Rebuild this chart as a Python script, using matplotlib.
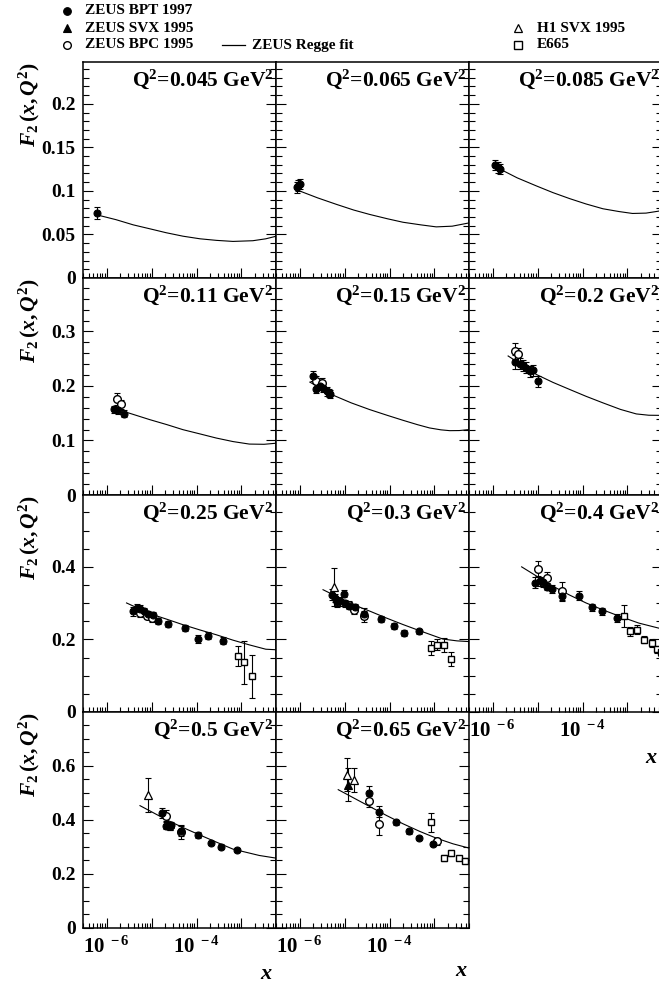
import matplotlib
matplotlib.use("Agg")
import matplotlib.pyplot as plt
from matplotlib.ticker import FixedLocator, FuncFormatter, MultipleLocator, NullFormatter
import numpy as np

plt.rcParams['font.family'] = ['Liberation Serif', 'DejaVu Serif']
plt.rcParams['font.weight'] = 'bold'
plt.rcParams['mathtext.fontset'] = 'custom'
plt.rcParams['mathtext.rm'] = 'Liberation Serif:bold'
plt.rcParams['mathtext.bf'] = 'Liberation Serif:bold'
plt.rcParams['mathtext.it'] = 'Liberation Serif:italic:bold'

# ---------------- data ----------------
q2_labels = ["0.045", "0.065", "0.085", "0.11", "0.15", "0.2",
             "0.25", "0.3", "0.4", "0.5", "0.65"]
row_ymax = [0.248, 0.398, 0.598, 0.798]
row_major = [0.05, 0.1, 0.2, 0.2]
row_minor = [0.01, 0.02, 0.05, 0.05]

# Q2 = 0.045
q045_fit_x = [5.5e-7, 1.6e-6, 3.9e-6, 1.0e-5, 2.1e-5, 5.0e-5, 1.2e-4, 2.8e-4, 6.5e-4, 1.8e-3, 3.5e-3, 6.0e-3]
q045_fit_f = [0.073, 0.067, 0.061, 0.056, 0.052, 0.048, 0.045, 0.0432, 0.042, 0.0428, 0.045, 0.048]
q045_bpt_x = [6.0e-7]
q045_bpt_f = [0.075]
q045_bpt_e = [0.007]

# Q2 = 0.065
q065_fit_x = [7.8e-7, 2.5e-6, 6.6e-6, 1.6e-5, 3.6e-5, 9.0e-5, 2.0e-4, 5.0e-4, 1.1e-3, 2.5e-3, 6.0e-3]
q065_fit_f = [0.102, 0.092, 0.0845, 0.078, 0.073, 0.068, 0.064, 0.061, 0.0587, 0.0595, 0.0633]
q065_bpt_x = [8.5e-7, 9.3e-7, 1.0e-6]
q065_bpt_f = [0.104, 0.106, 0.108]
q065_bpt_e = [0.006, 0.006, 0.006]

# Q2 = 0.085
q085_fit_x = [1.22e-6, 3.5e-6, 9.4e-6, 2.2e-5, 5.2e-5, 1.2e-4, 2.85e-4, 6.5e-4, 1.3e-3, 2.6e-3, 4.9e-3, 6.0e-3]
q085_fit_f = [0.127, 0.115, 0.1057, 0.098, 0.0911, 0.085, 0.0795, 0.0763, 0.0741, 0.0745, 0.0767, 0.078]
q085_bpt_x = [1.12e-6, 1.32e-6, 1.48e-6]
q085_bpt_f = [0.1296, 0.127, 0.125]
q085_bpt_e = [0.006, 0.006, 0.006]

# Q2 = 0.11
q11_fit_x = [2.76e-6, 9.1e-6, 2.2e-5, 5.0e-5, 1.2e-4, 2.75e-4, 6.5e-4, 1.5e-3, 3.2e-3, 6.0e-3]
q11_fit_f = [0.1517, 0.1382, 0.129, 0.1198, 0.112, 0.1045, 0.098, 0.0934, 0.093, 0.095]
q11_bpt_x = [1.48e-6, 1.78e-6, 2.4e-6]
q11_bpt_f = [0.157, 0.155, 0.149]
q11_bpt_e = [0.006, 0.006, 0.006]
q11_bpc_x = [1.7e-6, 2.04e-6]
q11_bpc_f = [0.176, 0.166]
q11_bpc_e = [0.011, 0.008]

# Q2 = 0.15
q15_fit_x = [1.68e-6, 5.1e-6, 1.4e-5, 3.6e-5, 9.0e-5, 2.0e-4, 4.2e-4, 7.8e-4, 1.4e-3, 2.2e-3, 3.6e-3, 6.0e-3]
q15_fit_f = [0.207, 0.1843, 0.169, 0.1567, 0.146, 0.137, 0.129, 0.123, 0.1195, 0.118, 0.1182, 0.120]
q15_bpt_x = [2.0e-6, 2.34e-6, 2.8e-6, 3.3e-6, 4.0e-6, 4.4e-6, 4.8e-6]
q15_bpt_f = [0.218, 0.195, 0.200, 0.197, 0.190, 0.187, 0.185]
q15_bpt_e = [0.009, 0.008, 0.008, 0.008, 0.008, 0.008, 0.008]
q15_bpc_x = [2.34e-6, 3.2e-6]
q15_bpc_f = [0.209, 0.205]
q15_bpc_e = [0.010, 0.010]

# Q2 = 0.2
q20_fit_x = [2.2e-6, 9.4e-6, 2.2e-5, 5.2e-5, 1.2e-4, 2.85e-4, 7.0e-4, 1.58e-3, 3.0e-3, 6.0e-3]
q20_fit_f = [0.255, 0.221, 0.2065, 0.1935, 0.181, 0.169, 0.157, 0.1487, 0.1463, 0.146]
q20_bpt_x = [3.16e-6, 4.1e-6, 4.8e-6, 5.6e-6, 6.8e-6, 7.9e-6, 1.02e-5]
q20_bpt_f = [0.244, 0.241, 0.238, 0.2335, 0.227, 0.229, 0.209]
q20_bpt_e = [0.012, 0.010, 0.010, 0.010, 0.010, 0.010, 0.010]
q20_bpc_x = [3.16e-6, 3.7e-6]
q20_bpc_f = [0.264, 0.258]
q20_bpc_e = [0.015, 0.012]

# Q2 = 0.25
q25_fit_x = [2.76e-6, 9.1e-6, 2.2e-5, 5.0e-5, 1.2e-4, 2.75e-4, 6.5e-4, 1.5e-3, 3.5e-3, 6.0e-3]
q25_fit_f = [0.3005, 0.271, 0.2555, 0.2405, 0.226, 0.2129, 0.198, 0.185, 0.173, 0.1715]
q25_bpt_x = [3.9e-6, 4.6e-6, 5.5e-6, 6.8e-6, 8.3e-6, 1.05e-5, 1.38e-5,
             2.34e-5, 5.5e-5, 1.07e-4, 1.78e-4, 3.9e-4]
q25_bpt_f = [0.277, 0.287, 0.284, 0.277, 0.271, 0.267, 0.250,
             0.2425, 0.231, 0.201, 0.210, 0.197]
q25_bpt_e = [0.012, 0.010, 0.010, 0.010, 0.008, 0.008, 0.008,
             0.008, 0.008, 0.010, 0.010, 0.010]
q25_bpc_x = [5.5e-6, 7.8e-6, 1.0e-5]
q25_bpc_f = [0.273, 0.265, 0.259]
q25_bpc_e = [0.012, 0.010, 0.010]
q25_e665_x = [8.5e-4, 1.17e-3, 1.7e-3]
q25_e665_f = [0.155, 0.137, 0.098]
q25_e665_e = [0.027, 0.059, 0.060]

# Q2 = 0.3
q30_fit_x = [3.3e-6, 1.55e-5, 3.8e-5, 8.5e-5, 2.0e-4, 4.7e-4, 1.55e-3, 3.2e-3, 6.0e-3]
q30_fit_f = [0.337, 0.296, 0.277, 0.259, 0.241, 0.224, 0.201, 0.196, 0.194]
q30_h1_x = [5.9e-6]
q30_h1_f = [0.345]
q30_h1_e = [0.053]
q30_bpt_x = [5.2e-6, 6.0e-6, 6.6e-6, 7.8e-6, 9.5e-6, 1.02e-5, 1.26e-5,
             1.7e-5, 2.7e-5, 6.6e-5, 1.26e-4, 2.1e-4, 4.5e-4]
q30_bpt_f = [0.323, 0.314, 0.302, 0.305, 0.326, 0.300, 0.293,
             0.289, 0.271, 0.257, 0.236, 0.2175, 0.222]
q30_bpt_e = [0.015, 0.012, 0.012, 0.012, 0.010, 0.010, 0.010,
             0.010, 0.015, 0.008, 0.008, 0.008, 0.008]
q30_bpc_x = [1.26e-5, 1.58e-5, 2.7e-5]
q30_bpc_f = [0.296, 0.280, 0.2635]
q30_bpc_e = [0.010, 0.010, 0.015]
q30_e665_x = [8.5e-4, 1.15e-3, 1.62e-3, 2.34e-3]
q30_e665_f = [0.176, 0.185, 0.185, 0.1465]
q30_e665_e = [0.020, 0.015, 0.020, 0.020]

# Q2 = 0.4
q40_fit_x = [4.4e-6, 2.2e-5, 5.2e-5, 1.2e-4, 2.9e-4, 6.8e-4, 1.8e-3, 4.9e-3, 6.0e-3]
q40_fit_f = [0.400, 0.3465, 0.322, 0.3005, 0.281, 0.2635, 0.245, 0.2314, 0.229]
q40_bpt_x = [8.7e-6, 1.12e-5, 1.32e-5, 1.62e-5, 2.14e-5, 3.5e-5,
             8.3e-5, 1.66e-4, 2.75e-4, 5.9e-4]
q40_bpt_f = [0.356, 0.360, 0.357, 0.345, 0.339, 0.321,
             0.321, 0.2885, 0.277, 0.259]
q40_bpt_e = [0.015, 0.012, 0.012, 0.010, 0.010, 0.015,
             0.012, 0.010, 0.010, 0.010]
q40_bpc_x = [1.0e-5, 1.62e-5, 3.5e-5]
q40_bpc_f = [0.395, 0.370, 0.3345]
q40_bpc_e = [0.020, 0.015, 0.025]
q40_e665_x = [8.3e-4, 1.15e-3, 1.62e-3, 2.3e-3, 3.5e-3, 4.6e-3, 5.6e-3]
q40_e665_f = [0.2635, 0.222, 0.227, 0.199, 0.190, 0.173, 0.165]
q40_e665_e = [0.030, 0.012, 0.012, 0.010, 0.010, 0.010, 0.010]

# Q2 = 0.5
q50_fit_x = [5.5e-6, 2.14e-5, 5.0e-5, 1.17e-4, 2.8e-4, 6.5e-4, 2.5e-3, 6.0e-3]
q50_fit_f = [0.452, 0.400, 0.371, 0.344, 0.317, 0.2914, 0.268, 0.258]
q50_h1_x = [8.3e-6]
q50_h1_f = [0.4926]
q50_h1_e = [0.063]
q50_bpt_x = [1.66e-5, 2.04e-5, 2.6e-5, 2.75e-5, 4.5e-5, 1.07e-4,
             2.14e-4, 3.6e-4, 7.8e-4]
q50_bpt_f = [0.425, 0.378, 0.375, 0.381, 0.360, 0.344,
             0.3135, 0.301, 0.289]
q50_bpt_e = [0.020, 0.012, 0.012, 0.012, 0.020, 0.010,
             0.008, 0.008, 0.008]
q50_bpc_x = [2.04e-5, 2.6e-5, 4.5e-5]
q50_bpc_f = [0.415, 0.378, 0.353]
q50_bpc_e = [0.020, 0.015, 0.025]

# Q2 = 0.65
q65_fit_x = [7.2e-6, 3.6e-5, 8.5e-5, 2.0e-4, 4.7e-4, 1.1e-3, 2.6e-3, 6.0e-3]
q65_fit_f = [0.511, 0.449, 0.416, 0.385, 0.357, 0.332, 0.311, 0.295]
q65_h1_x = [1.12e-5, 1.62e-5]
q65_h1_f = [0.567, 0.546]
q65_h1_e = [0.060, 0.045]
q65_svx_x = [1.17e-5]
q65_svx_f = [0.530]
q65_svx_e = [0.060]
q65_bpt_x = [3.5e-5, 5.8e-5, 1.38e-4, 2.7e-4, 4.6e-4, 9.3e-4]
q65_bpt_f = [0.499, 0.430, 0.390, 0.357, 0.332, 0.311]
q65_bpt_e = [0.025, 0.020, 0.008, 0.008, 0.008, 0.008]
q65_bpc_x = [3.5e-5, 5.8e-5, 1.15e-3]
q65_bpc_f = [0.468, 0.385, 0.320]
q65_bpc_e = [0.020, 0.040, 0.012]
q65_e665_x = [8.5e-4, 1.62e-3, 2.34e-3, 3.5e-3, 4.9e-3]
q65_e665_f = [0.391, 0.258, 0.277, 0.258, 0.249]
q65_e665_e = [0.035, 0.012, 0.010, 0.008, 0.008]

legend_labels = ["ZEUS BPT 1997", "ZEUS SVX 1995", "ZEUS BPC 1995",
                 "ZEUS Regge fit", "H1 SVX 1995", "E665"]

panels = [
    dict(fit=(q045_fit_x, q045_fit_f), bpt=(q045_bpt_x, q045_bpt_f, q045_bpt_e)),
    dict(fit=(q065_fit_x, q065_fit_f), bpt=(q065_bpt_x, q065_bpt_f, q065_bpt_e)),
    dict(fit=(q085_fit_x, q085_fit_f), bpt=(q085_bpt_x, q085_bpt_f, q085_bpt_e)),
    dict(fit=(q11_fit_x, q11_fit_f), bpt=(q11_bpt_x, q11_bpt_f, q11_bpt_e),
         bpc=(q11_bpc_x, q11_bpc_f, q11_bpc_e)),
    dict(fit=(q15_fit_x, q15_fit_f), bpt=(q15_bpt_x, q15_bpt_f, q15_bpt_e),
         bpc=(q15_bpc_x, q15_bpc_f, q15_bpc_e)),
    dict(fit=(q20_fit_x, q20_fit_f), bpt=(q20_bpt_x, q20_bpt_f, q20_bpt_e),
         bpc=(q20_bpc_x, q20_bpc_f, q20_bpc_e)),
    dict(fit=(q25_fit_x, q25_fit_f), bpt=(q25_bpt_x, q25_bpt_f, q25_bpt_e),
         bpc=(q25_bpc_x, q25_bpc_f, q25_bpc_e), e665=(q25_e665_x, q25_e665_f, q25_e665_e)),
    dict(fit=(q30_fit_x, q30_fit_f), bpt=(q30_bpt_x, q30_bpt_f, q30_bpt_e),
         bpc=(q30_bpc_x, q30_bpc_f, q30_bpc_e), e665=(q30_e665_x, q30_e665_f, q30_e665_e),
         h1=(q30_h1_x, q30_h1_f, q30_h1_e)),
    dict(fit=(q40_fit_x, q40_fit_f), bpt=(q40_bpt_x, q40_bpt_f, q40_bpt_e),
         bpc=(q40_bpc_x, q40_bpc_f, q40_bpc_e), e665=(q40_e665_x, q40_e665_f, q40_e665_e)),
    dict(fit=(q50_fit_x, q50_fit_f), bpt=(q50_bpt_x, q50_bpt_f, q50_bpt_e),
         bpc=(q50_bpc_x, q50_bpc_f, q50_bpc_e), h1=(q50_h1_x, q50_h1_f, q50_h1_e)),
    dict(fit=(q65_fit_x, q65_fit_f), bpt=(q65_bpt_x, q65_bpt_f, q65_bpt_e),
         bpc=(q65_bpc_x, q65_bpc_f, q65_bpc_e), e665=(q65_e665_x, q65_e665_f, q65_e665_e),
         h1=(q65_h1_x, q65_h1_f, q65_h1_e), svx=(q65_svx_x, q65_svx_f, q65_svx_e)),
]

# ---------------- layout (pixels) ----------------
W, H = 659, 984
col_left = [83.3, 276.3, 469.3]
col_w = 193.0
row_top = [62, 278, 495, 712]
row_bot = [278, 495, 712, 928]
XMIN, XMAX = 3e-7, 6e-3

fig = plt.figure(figsize=(W / 100, H / 100), dpi=100)

styles = {
    'bpt': dict(marker='o', ms=5, mfc='black', mec='black', mew=0.8),
    'svx': dict(marker='^', ms=5.5, mfc='black', mec='black', mew=0.8),
    'bpc': dict(marker='o', ms=5.5, mfc='white', mec='black', mew=1.0),
    'h1': dict(marker='^', ms=5.5, mfc='white', mec='black', mew=0.9),
    'e665': dict(marker='s', ms=4.8, mfc='white', mec='black', mew=1.0),
}


def xfmt(v, pos):
    e = int(round(np.log10(v)))
    if e in (-6, -4):
        return r'$10^{\ %d}$' % e
    return ''


def yfmt(v, pos):
    if abs(v) < 1e-9:
        return '0'
    return ('%g' % round(v, 3))


for i, p in enumerate(panels):
    r, c = divmod(i, 3)
    l = col_left[c]
    ax = fig.add_axes([l / W, 1 - row_bot[r] / H, col_w / W, (row_bot[r] - row_top[r]) / H])
    ax.set_xscale('log')
    ax.set_xlim(XMIN, XMAX)
    ax.set_ylim(0, row_ymax[r])
    for s in ax.spines.values():
        s.set_linewidth(1.1)
    fx, ff = p['fit']
    ax.plot(fx, ff, '-', color='black', lw=0.8, zorder=2)
    for key in ['e665', 'bpc', 'h1', 'svx', 'bpt']:
        if key in p:
            xs, fs, es = p[key]
            ax.errorbar(xs, fs, yerr=es, fmt='none', ecolor='black', elinewidth=0.8,
                        capsize=2.2, capthick=0.8, zorder=3)
            ax.plot(xs, fs, ls='none', zorder=4, **styles[key])
    ax.xaxis.set_major_locator(FixedLocator([10.0 ** k for k in range(-7, -1)]))
    ax.xaxis.set_minor_locator(FixedLocator([m * 10.0 ** k for k in range(-7, -1) for m in range(2, 10)]))
    ax.yaxis.set_major_locator(MultipleLocator(row_major[r]))
    ax.yaxis.set_minor_locator(MultipleLocator(row_minor[r]))
    ax.tick_params(axis='x', which='both', direction='in', top=False, bottom=True)
    ax.tick_params(axis='x', which='major', length=7.5, width=0.8, pad=6, labelsize=15)
    ax.tick_params(axis='x', which='minor', length=3.8, width=0.8)
    ax.tick_params(axis='y', which='both', direction='in', left=True, right=True)
    ax.tick_params(axis='y', which='major', length=7.5, width=0.8, pad=5.5, labelsize=14)
    ax.tick_params(axis='y', which='minor', length=4.0, width=0.8)
    bottom_row = (r == 3) or (r == 2 and c == 2)
    if bottom_row:
        ax.xaxis.set_major_formatter(FuncFormatter(xfmt))
    else:
        ax.xaxis.set_major_formatter(NullFormatter())
    ax.xaxis.set_minor_formatter(NullFormatter())
    if c == 0:
        ax.yaxis.set_major_formatter(FuncFormatter(yfmt))
        ax.text(-0.28, 1.0, r'$F_2\,(x,Q^2)$', transform=ax.transAxes, rotation=90,
                ha='center', va='top', fontsize=15.5)
    else:
        ax.yaxis.set_major_formatter(NullFormatter())
    ax.text(0.985, 0.975, 'Q$^2$=%s GeV$^2$' % q2_labels[i], transform=ax.transAxes,
            ha='right', va='top', fontsize=15.5)

# x-axis titles
fig.text(273 / W, 1 - 974 / H, r'$x$', ha='right', va='center', fontsize=16)
fig.text(468 / W, 1 - 971 / H, r'$x$', ha='right', va='center', fontsize=16)
fig.text(658 / W, 1 - 758 / H, r'$x$', ha='right', va='center', fontsize=16)

# ---------------- legend (overlay in pixel coordinates) ----------------
lg = fig.add_axes([0, 0, 1, 1], facecolor='none')
lg.set_xlim(0, W)
lg.set_ylim(H, 0)
lg.axis('off')
leg_rows_y = [11, 28, 45]
lg.plot([67], [leg_rows_y[0]], ls='none', **dict(styles['bpt'], ms=5.5))
lg.plot([67], [leg_rows_y[1]], ls='none', **dict(styles['svx'], ms=5.5))
lg.plot([67], [leg_rows_y[2]], ls='none', **dict(styles['bpc'], ms=5.5))
lg.plot([222, 245], [leg_rows_y[2], leg_rows_y[2]], '-', color='black', lw=0.9)
lg.plot([518], [leg_rows_y[1]], ls='none', **dict(styles['h1'], ms=6))
lg.plot([518], [leg_rows_y[2]], ls='none', **dict(styles['e665'], ms=5.5))
fs_leg = 11
lg.text(85, leg_rows_y[0], legend_labels[0], ha='left', va='center', fontsize=fs_leg)
lg.text(85, leg_rows_y[1], legend_labels[1], ha='left', va='center', fontsize=fs_leg)
lg.text(85, leg_rows_y[2], legend_labels[2], ha='left', va='center', fontsize=fs_leg)
lg.text(252, leg_rows_y[2], legend_labels[3], ha='left', va='center', fontsize=fs_leg)
lg.text(537, leg_rows_y[1], legend_labels[4], ha='left', va='center', fontsize=fs_leg)
lg.text(537, leg_rows_y[2], legend_labels[5], ha='left', va='center', fontsize=fs_leg)

fig.savefig('out.png', dpi=100)
